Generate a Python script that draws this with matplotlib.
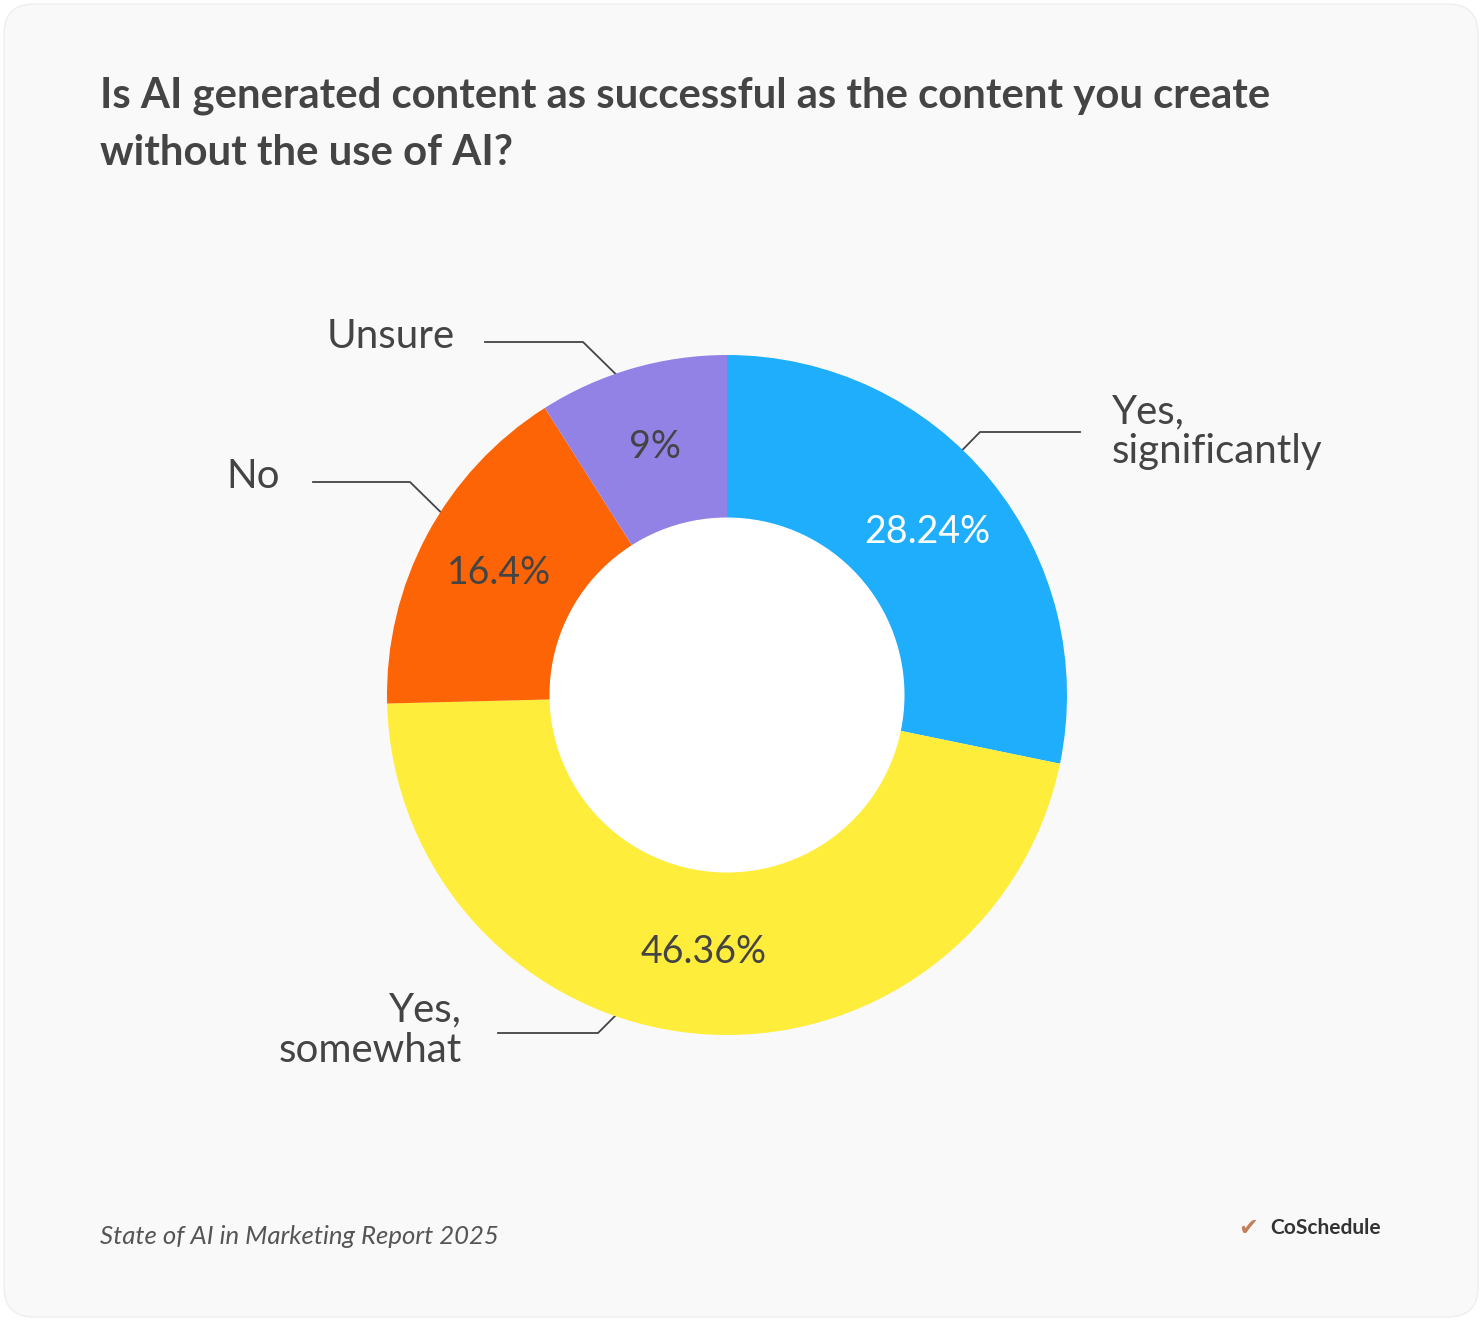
import matplotlib
matplotlib.use("Agg")
import matplotlib.pyplot as plt
from matplotlib.patches import FancyBboxPatch, Circle
import numpy as np

categories = ["Yes,\nsignificantly", "Yes,\nsomewhat", "No", "Unsure"]
values = [28.24, 46.36, 16.4, 9]
pct_labels = ["28.24%", "46.36%", "16.4%", "9%"]
colors = ["#1eaefc", "#ffed3b", "#fc6405", "#9382e6"]
pct_colors = ["white", "#444444", "#444444", "#444444"]

W, H = 1482, 1321
plt.rcParams['font.family'] = ['Lato', 'DejaVu Sans']
fig = plt.figure(figsize=(W/100, H/100), dpi=100)
fig.patch.set_facecolor("white")
bg = fig.add_axes([0, 0, 1, 1])
bg.set_xlim(0, W); bg.set_ylim(H, 0); bg.axis("off")
bg.add_patch(FancyBboxPatch((4, 4), W-8, H-8, boxstyle="round,pad=0,rounding_size=30",
                            fc="#f9f9f9", ec="#eeeeee", lw=1))

cx, cy, R = 727, 695, 340
ax = fig.add_axes([(cx-R)/W, 1-(cy+R)/H, 2*R/W, 2*R/H])
ax.pie(values, colors=colors, startangle=90, counterclock=False,
       wedgeprops=dict(width=0.48, edgecolor="none"), radius=1)
ax.add_patch(Circle((0, 0), 0.52, color="white", zorder=3))
ang = 90
for v, lab, c in zip(values, pct_labels, pct_colors):
    mid = np.deg2rad(ang - v*360/200)
    ang -= v*360/100
    ax.text(0.76*np.cos(mid), 0.76*np.sin(mid), lab, ha="center", va="center",
            fontsize=27, color=c)
ax.set_xlim(-1, 1); ax.set_ylim(-1, 1); ax.set_aspect("equal")

txt = "#444444"
bg.text(100, 124, "Is AI generated content as successful as the content you create\nwithout the use of AI?",
        fontsize=30.2, fontweight="bold", color=txt, va="center", linespacing=1.6)

lc = dict(color="#444444", lw=1.3)
fs = 29
bg.plot([930, 980, 1080], [483, 432, 432], **lc)
bg.text(1112, 432, "Yes,\nsignificantly", fontsize=fs, color=txt, va="center", linespacing=1.1)
bg.plot([648, 598, 498], [983, 1033, 1033], **lc)
bg.text(462, 1030, "Yes,\nsomewhat", fontsize=fs, color=txt, va="center", ha="right", linespacing=1.1)
bg.plot([462, 410, 313], [533, 482, 482], **lc)
bg.text(280, 476, "No", fontsize=fs, color=txt, va="center", ha="right")
bg.plot([635, 583, 485], [393, 342, 342], **lc)
bg.text(455, 336, "Unsure", fontsize=fs, color=txt, va="center", ha="right")

bg.text(100, 1236, "State of AI in Marketing Report 2025", fontsize=18.5, style="italic",
        color="#555555", va="center")
bg.text(1248, 1228, "\u2714", fontsize=17, color="#c4805a", va="center", ha="center",
        family=["DejaVu Sans"])
bg.text(1270, 1228, "CoSchedule", fontsize=15, fontweight="bold", color="#333333", va="center")

fig.savefig("out.png", dpi=100, facecolor=fig.get_facecolor())
